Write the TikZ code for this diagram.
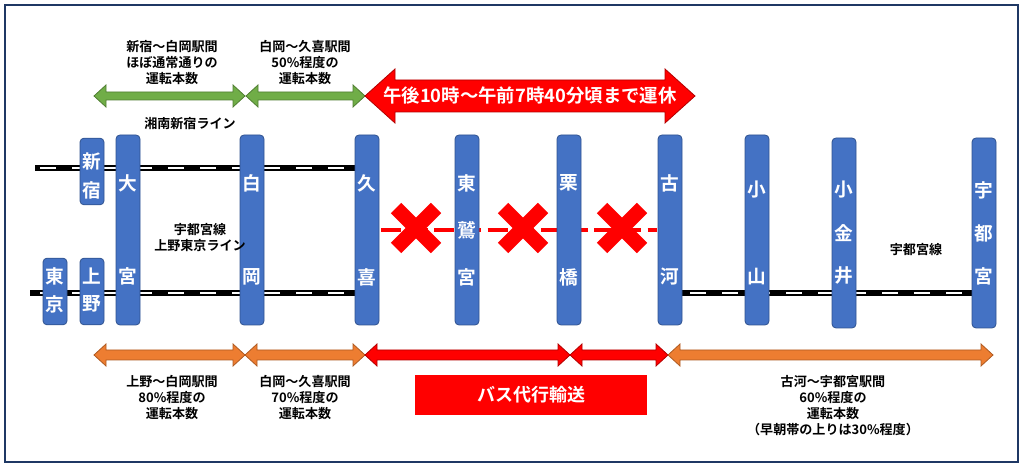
\documentclass[tikz,border=0pt]{standalone}
\usepackage{fontspec}
\usetikzlibrary{calc}
\setmainfont{Noto Sans CJK JP}
\newfontfamily\jpb{Noto Sans CJK JP Bold}
\definecolor{stblue}{HTML}{4472C4}
\definecolor{stedge}{HTML}{2F528F}
\definecolor{gr}{HTML}{70AD47}
\definecolor{grd}{HTML}{507E32}
\definecolor{orn}{HTML}{ED7D31}
\definecolor{ornd}{HTML}{AE5A21}
\definecolor{navy}{HTML}{1F3864}
\newcommand\dbarrow[8]{% x1 x2 y h H L fill draw
  \pgfmathsetmacro\xa{#1+#6}\pgfmathsetmacro\xb{#2-#6}%
  \pgfmathsetmacro\ya{#3-#4}\pgfmathsetmacro\yb{#3+#4}%
  \pgfmathsetmacro\yA{#3-#5}\pgfmathsetmacro\yB{#3+#5}%
  \path[fill=#7,draw=#8,line width=0.6pt,line join=miter] (#1,#3) -- (\xa,\yA) -- (\xa,\ya) -- (\xb,\ya) -- (\xb,\yA) -- (#2,#3) -- (\xb,\yB) -- (\xb,\yb) -- (\xa,\yb) -- (\xa,\yB) -- cycle;}
\begin{document}
\begin{tikzpicture}[x=0.75pt,y=-0.75pt,
  stn/.style={draw=stedge,fill=stblue,rounded corners=3pt,minimum width=18pt,inner sep=0pt,line width=0.6pt},
  stxt/.style={text=white,font=\jpb\fontsize{14}{14}\selectfont,inner sep=0pt},
  lbl/.style={font=\jpb\fontsize{9.8}{12}\selectfont,align=center,inner sep=0pt},
  rail/.style={line width=4pt,black},
  railw/.style={line width=1.3pt,white,dash pattern=on 12pt off 12pt},
  xmark/.style={red,line width=11pt}]
\useasboundingbox (0,0) rectangle (1024,473);
\draw[navy,line width=2.2pt] (5,5) rectangle (1018,462);
% rails
\draw[rail] (35,168) -- (355,168);
\draw[railw] (40,168) -- (355,168);
\draw[rail] (30,293) -- (355,293);
\draw[railw] (40,293) -- (355,293);
\draw[rail] (682,293) -- (972,293);
\draw[railw] (690,293) -- (972,293);
\draw[red,line width=3pt,dash pattern=on 15pt off 5pt] (381,230) -- (657,230);
% crosses
\foreach \cx/\nm in {416/xa,523/xb,622/xc}{
  \coordinate (\nm) at (\cx,228);
  \draw[xmark] ($(\nm)+(-20,-20)$) -- ($(\nm)+(20,20)$);
  \draw[xmark] ($(\nm)+(-20,20)$) -- ($(\nm)+(20,-20)$);
}
% stations
\node[stn,minimum height=50pt] (shinjuku) at (92,171.5) {};
\node[stn,minimum height=50pt] (tokyo) at (55,291.5) {};
\node[stn,minimum height=50pt] (ueno) at (92,291.5) {};
\foreach \nm/\cx/\yt/\yb in {omiya/128/135/325,shiraoka/252/135/325,kuki/367/135/325,higashi/467/135/325,kurihashi/569/135/325,koga/670/135/325,oyama/757/135/325,koganei/844/138/328,utsunomiya/984/138/328}{
  \pgfmathsetmacro\hh{(\yb-\yt)*0.75}
  \node[stn,minimum height=\hh pt] (\nm) at (\cx,{(\yt+\yb)/2}) {};
}
\foreach \x/\y/\c in {92/162/新,92/190/宿,55/276/東,55/304/京,92/276/上,92/304/野,
  128/183/大,128/276/宮,252/183/白,252/277/岡,367/183/久,367/277/喜,
  467/183/東,467/230/鷲,467/277/宮,569/183/栗,569/277/橋,670/183/古,670/277/河,
  757/190/小,757/277/山,844/190/小,844/233/金,844/276/井,984/190/宇,984/233/都,984/276/宮}
  \node[stxt] at (\x,\y) {\c};
% top arrows
\dbarrow{94}{245}{96}{4}{11}{12}{gr}{grd}
\dbarrow{246}{365}{96}{4}{11}{12}{gr}{grd}
\dbarrow{365}{695}{96}{16}{27}{30}{red}{red!70!black}
\node[text=white,font=\jpb\fontsize{13.8}{14}\selectfont] (stop) at (530,96) {午後10時～午前7時40分頃まで運休};
% bottom arrows
\dbarrow{94}{245}{355}{5}{11}{12}{orn}{ornd}
\dbarrow{245}{365}{355}{5}{11}{12}{orn}{ornd}
\dbarrow{365}{570}{355}{5}{11}{12}{red}{red!70!black}
\dbarrow{570}{668}{355}{5}{11}{12}{red}{red!70!black}
\dbarrow{668}{993}{355}{5}{11}{12}{orn}{ornd}
\node[fill=red,minimum width=174pt,minimum height=30pt,text=white,font=\jpb\fontsize{13.5}{14}\selectfont,inner sep=0pt] (bus) at (531,395) {バス代行輸送};
% labels
\node[lbl] (t1) at (172,63) {新宿～白岡駅間\\ほぼ通常通りの\\運転本数};
\node[lbl] (t2) at (305,63) {白岡～久喜駅間\\50\%程度の\\運転本数};
\node[lbl] (l1) at (190,124) {湘南新宿ライン};
\node[lbl] (l2) at (200,238) {宇都宮線\\上野東京ライン};
\node[lbl] (l3) at (916,250) {宇都宮線};
\node[lbl] (b1) at (172,398) {上野～白岡駅間\\80\%程度の\\運転本数};
\node[lbl] (b2) at (305,398) {白岡～久喜駅間\\70\%程度の\\運転本数};
\node[lbl] (b3) at (833,406) {古河～宇都宮駅間\\60\%程度の\\運転本数\\（早朝帯の上りは30\%程度）};
\end{tikzpicture}
\end{document}
